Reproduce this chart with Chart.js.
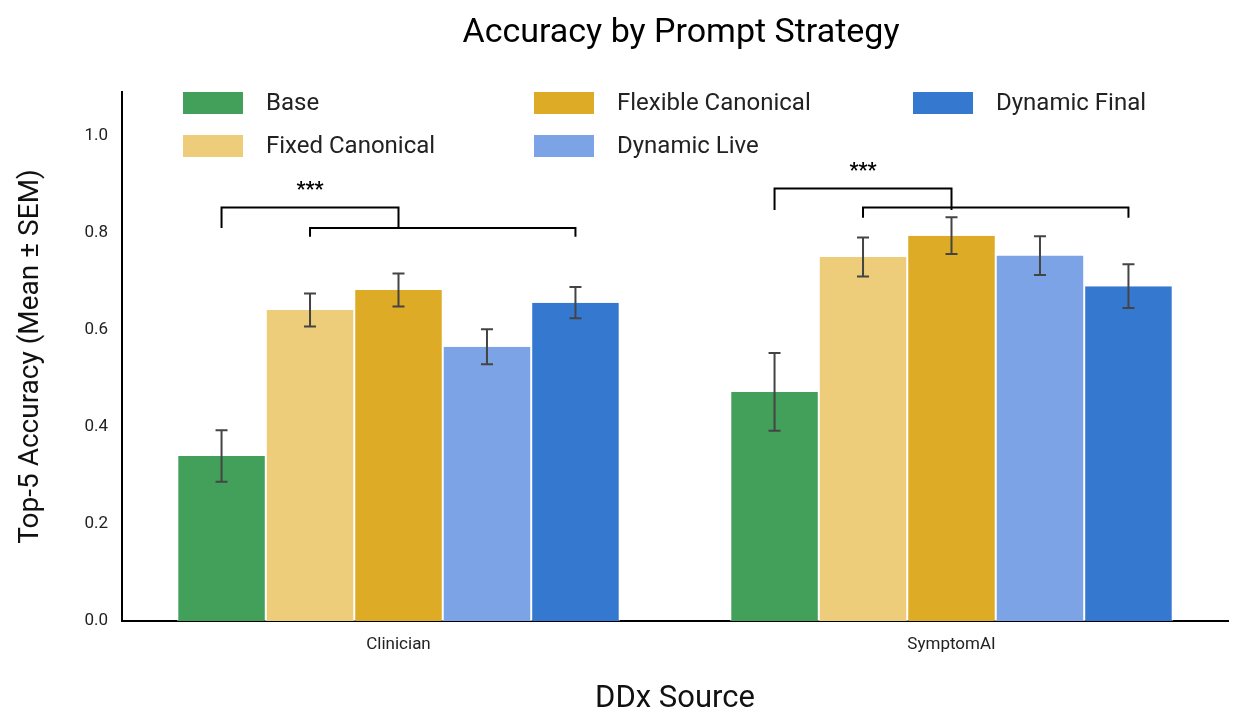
<!DOCTYPE html>
<html><head><meta charset="utf-8">
<script src="https://cdn.jsdelivr.net/npm/chart.js@4/dist/chart.umd.min.js"></script>
<style>html,body{margin:0;padding:0;background:#fff}#w{width:1250px;height:722px}</style>
</head><body><div id="w"><canvas id="c"></canvas></div>
<script>
const categories = ["Clinician", "SymptomAI"];
const seriesNames = ["Base", "Fixed Canonical", "Flexible Canonical", "Dynamic Live", "Dynamic Final"];
const seriesColors = ["#43A05A", "#EDCD7A", "#DDAB25", "#7BA3E6", "#3578D0"];
const base = [0.34, 0.472];
const fixedCanonical = [0.641, 0.75];
const flexibleCanonical = [0.682, 0.794];
const dynamicLive = [0.565, 0.753];
const dynamicFinal = [0.656, 0.69];
const semBase = [0.053, 0.08];
const semFixed = [0.034, 0.04];
const semFlexible = [0.034, 0.038];
const semLive = [0.036, 0.04];
const semFinal = [0.032, 0.045];
const yTicks = [0, 0.2, 0.4, 0.6, 0.8, 1.0];
// brackets: [category, fromSeries, toSeries, y, legBottom]
const brackets = [
  [0, 0, 2, 0.852, 0.81], [0, 1, 4, 0.81, 0.792],
  [1, 0, 2, 0.891, 0.847], [1, 1, 4, 0.852, 0.831]
];
const starLabels = [[0, 0.895], [1, 0.934]];

const values = [base, fixedCanonical, flexibleCanonical, dynamicLive, dynamicFinal];
const sems = [semBase, semFixed, semFlexible, semLive, semFinal];
const FONT = "Roboto";

const extras = {
  id: 'extras',
  afterDatasetsDraw(chart) {
    const ctx = chart.ctx, y = chart.scales.y;
    const bx = (ds, i) => chart.getDatasetMeta(ds).data[i].x;
    ctx.save();
    // error bars
    ctx.strokeStyle = "#444"; ctx.lineWidth = 2;
    values.forEach((arr, d) => arr.forEach((v, i) => {
      const x = bx(d, i), t = y.getPixelForValue(v + sems[d][i]), b = y.getPixelForValue(v - sems[d][i]);
      ctx.beginPath();
      ctx.moveTo(x, t); ctx.lineTo(x, b);
      ctx.moveTo(x - 6, t); ctx.lineTo(x + 6, t);
      ctx.moveTo(x - 6, b); ctx.lineTo(x + 6, b);
      ctx.stroke();
    }));
    // brackets
    ctx.strokeStyle = "#000"; ctx.lineWidth = 2;
    brackets.forEach(([c, a, b2, yy, leg]) => {
      const x1 = bx(a, c), x2 = bx(b2, c), py = y.getPixelForValue(yy), pl = y.getPixelForValue(leg);
      ctx.beginPath();
      ctx.moveTo(x1, pl); ctx.lineTo(x1, py); ctx.lineTo(x2, py); ctx.lineTo(x2, pl);
      ctx.stroke();
    });
    ctx.fillStyle = "#000"; ctx.font = "bold 20px " + FONT; ctx.textAlign = "center"; ctx.textBaseline = "middle";
    starLabels.forEach(([c, yy]) => {
      const x = (bx(0, c) + bx(2, c)) / 2;
      ctx.fillText("***", x, y.getPixelForValue(yy) + 4);
    });
    // title
    ctx.font = "34px " + FONT;
    ctx.fillText("Accuracy by Prompt Strategy", 681, 33);
    // legend
    const lx = [183, 534, 913], ly = [103, 146];
    ctx.font = "24px " + FONT; ctx.textAlign = "left";
    const pos = [[0,0],[0,1],[1,0],[1,1],[2,0]];
    seriesNames.forEach((n, k) => {
      const [cx, ry] = pos[k];
      ctx.fillStyle = seriesColors[k];
      ctx.fillRect(lx[cx], ly[ry] - 11, 60, 22);
      ctx.fillStyle = "#222";
      ctx.fillText(n, lx[cx] + 83, ly[ry] + 1);
    });
    ctx.restore();
  }
};

new Chart(document.getElementById('c'), {
  type: 'bar',
  data: {
    labels: categories,
    datasets: values.map((v, k) => ({
      label: seriesNames[k], data: v, backgroundColor: seriesColors[k],
      borderColor: "#fff", borderWidth: {left: 1, right: 1}, borderSkipped: false,
      categoryPercentage: 0.8, barPercentage: 1.0
    }))
  },
  options: {
    responsive: true, maintainAspectRatio: false, animation: false,
    layout: {padding: {left: 10, right: 22, top: 92, bottom: 0}},
    plugins: {legend: {display: false}, tooltip: {enabled: false}},
    scales: {
      x: {
        grid: {display: false, drawTicks: false}, border: {color: "#000", width: 2},
        ticks: {color: "#222", font: {family: FONT, size: 17}, padding: 14},
        title: {display: true, text: "DDx Source", color: "#111", font: {family: FONT, size: 31}, padding: {top: 8}},
        afterFit: s => { s.height = 101; }
      },
      y: {
        min: 0, max: 1.09,
        afterBuildTicks: s => { s.ticks = yTicks.map(v => ({value: v})); },
        grid: {display: false, drawTicks: true, tickLength: 6, color: "#000"}, border: {color: "#000", width: 2},
        ticks: {color: "#222", font: {family: FONT, size: 17}, padding: 8, callback: v => Number(v).toFixed(1)},
        title: {display: true, text: "Top-5 Accuracy (Mean ± SEM)", color: "#111", font: {family: FONT, size: 28}},
        afterFit: s => { s.width = 112; }
      }
    }
  },
  plugins: [extras]
});
</script></body></html>
